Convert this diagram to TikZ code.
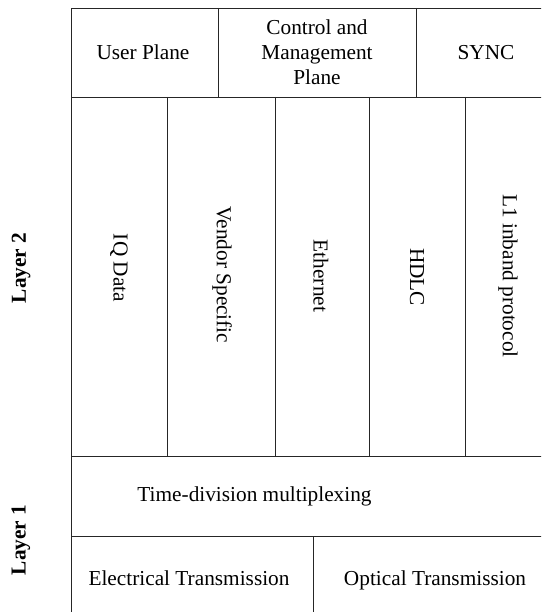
\documentclass[tikz,border=0pt]{standalone}
\usepackage{fontspec}
\setmainfont{Liberation Serif}
\begin{document}
\begin{tikzpicture}[x=1pt,y=-1pt,
  grid/.style={draw=black!85,line width=0.9pt},
  cell/.style={font=\fontsize{21.3}{25}\selectfont,align=center,inner sep=0pt},
  vcell/.style={cell,rotate=-90},
  layerlab/.style={font=\fontsize{21.3}{25}\selectfont\bfseries,rotate=90,inner sep=0pt}]
\useasboundingbox (0,0) rectangle (541,612);
\clip (0,0) rectangle (541,612);
% outer frame and rows
\draw[grid] (71,8) rectangle (556,620);
\draw[grid] (71,97) -- (556,97);
\draw[grid] (71,456) -- (556,456);
\draw[grid] (71,536) -- (556,536);
% top row dividers
\draw[grid] (218,8) -- (218,97);
\draw[grid] (416,8) -- (416,97);
% layer 2 dividers
\draw[grid] (167,97) -- (167,456);
\draw[grid] (275,97) -- (275,456);
\draw[grid] (369,97) -- (369,456);
\draw[grid] (465,97) -- (465,456);
% bottom divider
\draw[grid] (313,536) -- (313,620);
% texts
\node[cell,anchor=base] (up) at (143,60) {User Plane};
\node[cell] (cmp) at (317,52.5) {Control and\\Management\\Plane};
\node[cell,anchor=base] (sync) at (486,60) {SYNC};
\node[vcell] (iq) at (119,268) {IQ Data};
\node[vcell] (vs) at (222,275) {Vendor Specific};
\node[vcell] (eth) at (321,276) {Ethernet};
\node[vcell] (hdlc) at (417,277) {HDLC};
\node[vcell] (l1) at (508,276) {L1 inband protocol};
\node[cell] (tdm) at (254.5,496) {Time-division multiplexing};
\node[cell,anchor=base] (el) at (189,585) {Electrical Transmission};
\node[cell,anchor=base] (op) at (435,585) {Optical Transmission};
\node[layerlab] (l2lab) at (21,268) {Layer 2};
\node[layerlab] (l1lab) at (21,540) {Layer 1};
\end{tikzpicture}
\end{document}
